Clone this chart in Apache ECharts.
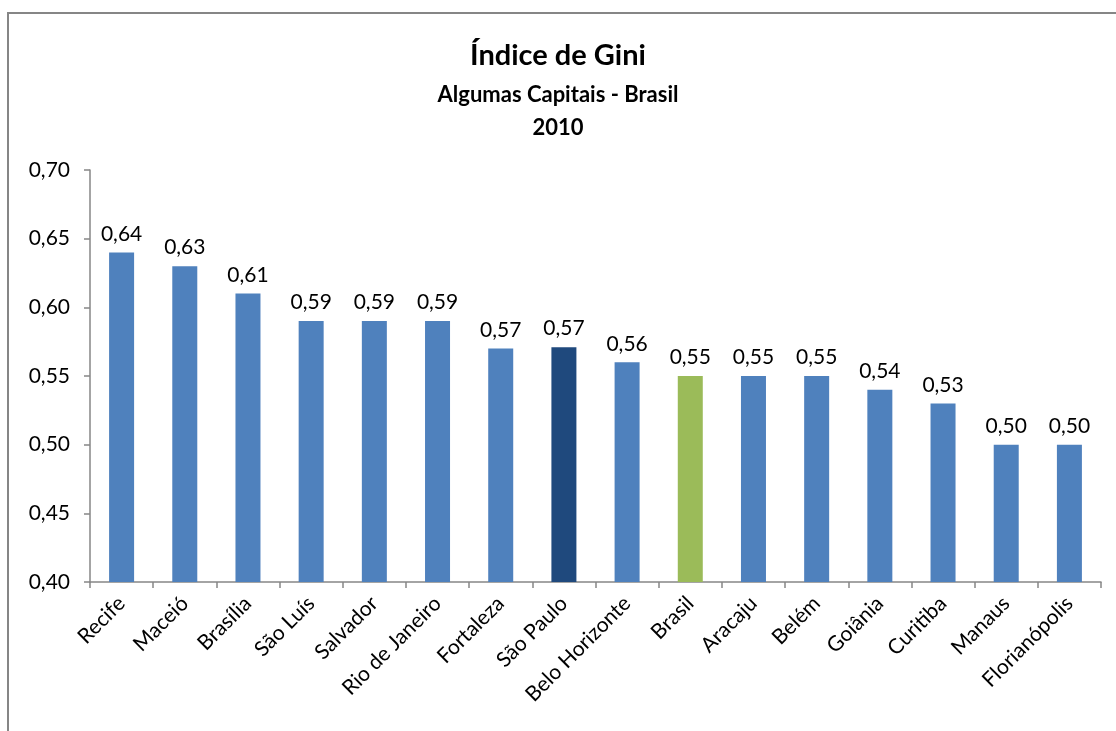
<!DOCTYPE html>
<html>
<head>
<meta charset="utf-8">
<script src="https://cdn.jsdelivr.net/npm/echarts@6/dist/echarts.min.js"></script>
<style>
  html, body { margin: 0; padding: 0; background: #fff; }
  #chart { width: 1116px; height: 731px; }
</style>
</head>
<body>
<div id="chart"></div>
<script>
const cities = ["Recife", "Maceió", "Brasília", "São Luís", "Salvador", "Rio de Janeiro", "Fortaleza",
  "São Paulo", "Belo Horizonte", "Brasil", "Aracaju", "Belém", "Goiânia", "Curitiba", "Manaus", "Florianópolis"];
const gini = [0.64, 0.63, 0.61, 0.59, 0.59, 0.59, 0.57, 0.571, 0.56, 0.55, 0.55, 0.55, 0.54, 0.53, 0.50, 0.50];
const barColors = {
  "São Paulo": "#1F497D",
  "Brasil": "#9BBB59",
};
const defaultColor = "#4F81BD";
const font = "Lato, 'Open Sans', sans-serif";

const chart = echarts.init(document.getElementById("chart"));

chart.setOption({
  animation: false,
  textStyle: { fontFamily: font },
  title: {
    left: "center",
    top: 36,
    text: "Índice de Gini",
    subtext: "Algumas Capitais - Brasil\n2010",
    itemGap: 8,
    textStyle: { fontSize: 29, fontWeight: "bold", color: "#000", fontFamily: font },
    subtextStyle: { fontSize: 22, fontWeight: "bold", color: "#000", lineHeight: 33, fontFamily: font },
  },
  graphic: [
    {
      type: "rect",
      shape: { x: 8, y: 13, width: 1200, height: 800 },
      style: { fill: "none", stroke: "#868686", lineWidth: 2 },
      silent: true,
    },
  ],
  grid: { left: 90, right: 15, top: 170, bottom: 149, containLabel: false },
  xAxis: {
    type: "category",
    data: cities,
    axisLine: { lineStyle: { color: "#868686", width: 1.5 } },
    axisTick: { show: true, length: 6, lineStyle: { color: "#868686", width: 1.5 } },
    axisLabel: {
      rotate: 45,
      interval: 0,
      margin: 18,
      fontSize: 21,
      color: "#000",
      fontFamily: font,
    },
  },
  yAxis: {
    type: "value",
    min: 0.4,
    max: 0.7,
    interval: 0.05,
    axisLine: { show: true, lineStyle: { color: "#868686", width: 1.5 } },
    axisTick: { show: true, length: 6, lineStyle: { color: "#868686", width: 1.5 } },
    splitLine: { show: false },
    axisLabel: {
      fontSize: 21,
      color: "#000",
      margin: 20,
      fontFamily: font,
      formatter: (v) => v.toFixed(2).replace(".", ","),
    },
  },
  series: [
    {
      type: "bar",
      barWidth: 25,
      data: gini.map((v, i) => ({
        value: v,
        itemStyle: { color: barColors[cities[i]] || defaultColor },
      })),
      label: {
        show: true,
        position: "top",
        distance: 8,
        fontSize: 21,
        color: "#000",
        fontFamily: font,
        formatter: (p) => p.value.toFixed(2).replace(".", ","),
      },
    },
  ],
});
</script>
</body>
</html>
